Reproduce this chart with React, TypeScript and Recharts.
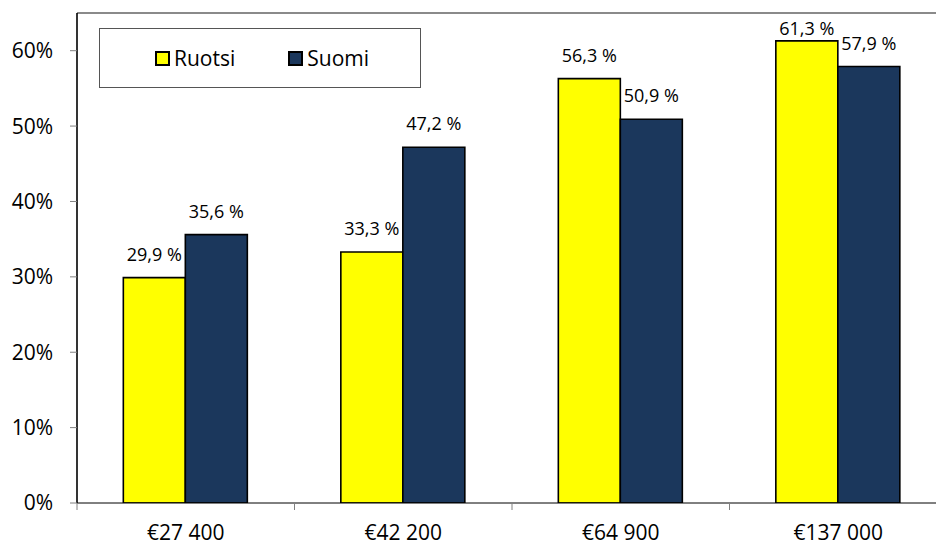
import React from 'react';
import { BarChart, Bar, XAxis, YAxis, Legend, LabelList, ReferenceLine } from 'recharts';

// Income levels (categories) and shares per country, in percent
const categories = ['€27 400', '€42 200', '€64 900', '€137 000'];
const ruotsi = [29.9, 33.3, 56.3, 61.3];
const suomi = [35.6, 47.2, 50.9, 57.9];
const yTicks = [0, 10, 20, 30, 40, 50, 60];

const data = categories.map((c, i) => ({ name: c, Ruotsi: ruotsi[i], Suomi: suomi[i] }));

const CHART_W = 950;
const CHART_H = 545;
const MARGIN = { top: 13, right: 3, bottom: 0, left: 0 };
const Y_AXIS_W = 77;
const X_AXIS_H = 42;
const PLOT_W = CHART_W - MARGIN.left - MARGIN.right - Y_AXIS_W;
const BAND = PLOT_W / categories.length;

const FONT = '"Open Sans", "Noto Sans", sans-serif';
const YELLOW = '#FFFF00';
const NAVY = '#1B375C';

const fmt = (v: number) => v.toFixed(1).replace('.', ',') + ' %';

// Category label centred under the group, tick mark at the group boundary
const XTick = (props: any) => {
  const { x, y, payload } = props;
  const axisY = y - 8;
  const left = x - BAND / 2;
  return (
    <g>
      <line x1={left} y1={axisY} x2={left} y2={axisY + 7} stroke="#808080" strokeWidth={1} />
      <text x={x} y={axisY + 37} textAnchor="middle" fontSize={21} fontFamily={FONT} fill="#000">
        {payload.value}
      </text>
    </g>
  );
};

// Value label above each bar, kept inside the plot near the top edge
const ValueLabel = (props: any) => {
  const { x, y, width, value } = props;
  const base = Math.max(y - 17, 35);
  return (
    <text x={x + width / 2} y={base} textAnchor="middle" fontSize={18} fontFamily={FONT} fill="#000">
      {fmt(value)}
    </text>
  );
};

const Swatch = ({ color }: { color: string }) => (
  <span
    style={{
      display: 'inline-block',
      width: 11,
      height: 11,
      background: color,
      border: '2px solid #000',
      marginRight: 4,
    }}
  />
);

const LegendBox = () => (
  <div
    style={{
      width: 320,
      height: 58,
      border: '1px solid #555',
      background: '#fff',
      boxSizing: 'content-box',
      display: 'flex',
      alignItems: 'center',
      fontFamily: FONT,
      fontSize: 21,
      color: '#000',
    }}
  >
    <div style={{ display: 'flex', alignItems: 'center', marginLeft: 55 }}>
      <Swatch color={YELLOW} />
      <span>Ruotsi</span>
    </div>
    <div style={{ display: 'flex', alignItems: 'center', marginLeft: 53 }}>
      <Swatch color={NAVY} />
      <span>Suomi</span>
    </div>
  </div>
);

export default function App() {
  return (
    <div
      style={{
        position: 'absolute',
        left: 0,
        top: 0,
        width: 936,
        height: 545,
        overflow: 'hidden',
        background: '#fff',
        fontFamily: FONT,
      }}
    >
      <BarChart
        width={CHART_W}
        height={CHART_H}
        data={data}
        margin={MARGIN}
        barCategoryGap="21.3%"
        barGap={0}
      >
        <XAxis
          dataKey="name"
          height={X_AXIS_H}
          axisLine={{ stroke: '#000', strokeWidth: 1 }}
          tickLine={false}
          tick={<XTick />}
          interval={0}
        />
        <YAxis
          width={Y_AXIS_W}
          domain={[0, 65]}
          ticks={yTicks}
          allowDataOverflow
          tickFormatter={(v: number) => `${v}%`}
          axisLine={{ stroke: '#000', strokeWidth: 1.6 }}
          tickLine={{ stroke: '#808080', strokeWidth: 1 }}
          tickSize={7}
          tickMargin={17}
          tick={{ fontSize: 21, fontFamily: FONT, fill: '#000' }}
        />
        <ReferenceLine y={65} stroke="#8a8a8a" strokeWidth={2} />
        <Legend
          layout="horizontal"
          verticalAlign="middle"
          align="center"
          content={<LegendBox />}
          wrapperStyle={{ position: 'absolute', left: 99, top: 28, width: 322, height: 60 }}
        />
        <Bar dataKey="Ruotsi" fill={YELLOW} stroke="#000" strokeWidth={1.6} isAnimationActive={false}>
          <LabelList dataKey="Ruotsi" content={<ValueLabel />} />
        </Bar>
        <Bar dataKey="Suomi" fill={NAVY} stroke="#000" strokeWidth={1.6} isAnimationActive={false}>
          <LabelList dataKey="Suomi" content={<ValueLabel />} />
        </Bar>
      </BarChart>
    </div>
  );
}
